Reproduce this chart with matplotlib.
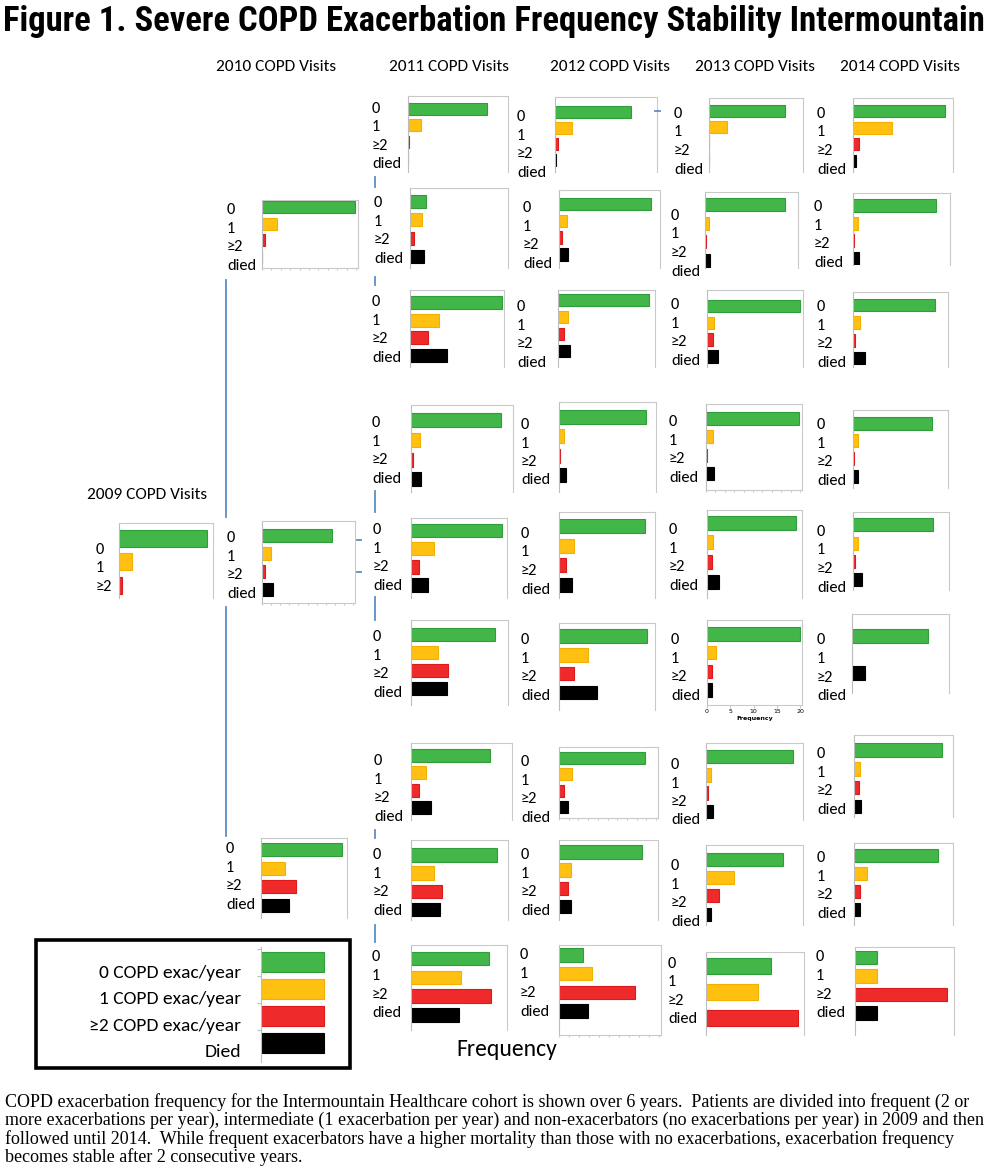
import matplotlib
matplotlib.use("Agg")
import matplotlib.pyplot as plt
from matplotlib import font_manager as fm
from matplotlib.lines import Line2D
from matplotlib.patches import Rectangle
import numpy as np

# ---------------- data (values on a 0-20 frequency scale) ----------------
categories = ["0", "1", "≥2", "died"]
years = ["2010", "2011", "2012", "2013", "2014"]

v2009 = [19.2, 2.8, 0.6]
v2010 = [[19.8, 3.2, 0.6, 0.0],
         [15.4, 2.0, 0.6, 2.4],
         [19.2, 5.8, 8.2, 6.6]]
v2011 = [[16.2, 2.6, 0.3, 0.08],
         [3.4, 2.4, 0.8, 3.0],
         [20.0, 6.2, 3.8, 8.0],
         [18.0, 1.8, 0.4, 2.0],
         [19.4, 4.8, 1.8, 3.6],
         [17.6, 5.6, 7.8, 7.6],
         [16.0, 3.0, 1.6, 4.0],
         [18.0, 4.8, 6.6, 6.2],
         [16.6, 10.6, 17.0, 10.2]]
v2012 = [[15.2, 3.4, 0.6, 0.2],
         [18.6, 1.6, 0.6, 1.8],
         [19.2, 2.0, 1.2, 2.6],
         [18.4, 1.0, 0.3, 1.4],
         [18.2, 3.2, 1.4, 2.8],
         [18.8, 6.2, 3.2, 8.0],
         [17.8, 2.6, 1.0, 1.8],
         [17.0, 2.4, 1.8, 2.4],
         [4.8, 6.6, 15.2, 5.8]]
v2013 = [[16.4, 4.0, 0.1, 0.0],
         [17.6, 0.8, 0.2, 1.2],
         [19.8, 1.4, 1.2, 2.4],
         [19.8, 1.4, 0.2, 1.6],
         [19.2, 1.2, 1.0, 2.6],
         [20.0, 2.0, 1.0, 1.0],
         [18.2, 1.0, 0.4, 1.4],
         [16.2, 5.8, 2.8, 1.0],
         [13.6, 10.8, 19.2]]
v2014 = [[18.8, 8.0, 1.2, 0.7],
         [17.4, 1.0, 0.2, 1.2],
         [17.6, 1.6, 0.4, 2.6],
         [17.0, 1.0, 0.2, 1.0],
         [17.0, 1.0, 0.4, 2.0],
         [16.0, 0.0, 2.8],
         [18.2, 1.2, 1.0, 1.4],
         [17.4, 2.6, 1.2, 1.2],
         [4.6, 4.6, 19.0, 4.6]]
freq_ticks = [0, 5, 10, 15, 20]
legend_labels = ["0 COPD exac/year", "1 COPD exac/year", "≥2 COPD exac/year", "Died"]
legend_values = [1, 1, 1, 1]

caption_lines = [
    "COPD exacerbation frequency for the Intermountain Healthcare cohort is shown over 6 years.  Patients are divided into frequent (2 or",
    "more exacerbations per year), intermediate (1 exacerbation per year) and non-exacerbators (no exacerbations per year) in 2009 and then",
    "followed until 2014.  While frequent exacerbators have a higher mortality than those with no exacerbations, exacerbation frequency",
    "becomes stable after 2 consecutive years.",
]

# ---------------- style ----------------
G, GE = "#43b649", "#2f9e3a"
O, OE = "#ffc012", "#f2b100"
R, RE = "#ee2a2a", "#dc1a1a"
K, KE = "#000000", "#000000"
FILL = [G, O, R, K]
EDGE = [GE, OE, RE, KE]
BLUE = "#5b8ec6"
SPINE = "#c9c9c9"

W, H = 1000, 1176
fig = plt.figure(figsize=(W / 100, H / 100), dpi=100)
fig.patch.set_facecolor("white")

avail = {f.name for f in fm.fontManager.ttflist}
def pick(*names):
    for n in names:
        if n in avail:
            return n
    return "DejaVu Sans"
SANS = [pick("Carlito", "Lato", "Open Sans"), "DejaVu Sans"]
TITLEF = [pick("Liberation Sans Narrow", "Roboto Condensed", "Noto Sans Condensed",
               "Open Sans Condensed", "Liberation Sans", "Arial"), "DejaVu Sans"]
SERIF = [pick("Liberation Serif", "DejaVu Serif"), "DejaVu Serif"]

def fx(x):
    return x / W
def fy(y):
    return 1 - y / H

# layout: frame x0,y0,x1,y1 ; first bar centre, slot spacing, bar height ; label x, first label y, label spacing
L2009 = (119, 523, 213, 598, 538.5, 23.5, 17, 97, 550, 18.5)
L2010 = [(262, 200, 358, 268, 207, 16.5, 12, 228, 210, 18.7),
         (262, 521, 355, 603, 535.5, 18, 13, 228, 538, 18.7),
         (261, 838, 347, 918, 849.5, 18.5, 13, 227, 849, 18.7)]
L2011 = [(408, 96, 508, 172, 109, 16.3, 12, 373, 109, 18.3),
         (410, 188, 508, 268, 201.5, 18.3, 13, 375, 203, 18.7),
         (410, 290, 504, 367, 302.5, 17.7, 13, 373, 302, 18.7),
         (411, 405, 513, 492, 420, 19.8, 14, 373, 423, 18.5),
         (411, 518, 507, 598, 530.5, 18.2, 13.5, 374, 530, 18.7),
         (411, 620, 508, 705, 634.5, 18, 13.5, 374, 637, 18.7),
         (411, 743, 512, 820, 755.5, 17.3, 13, 375, 761, 18.7),
         (411, 840, 508, 920, 855, 18.2, 13.5, 374, 855, 18.7),
         (411, 945, 507, 1030, 958.5, 18.8, 13.5, 373, 957, 18.8)]
L2012 = [(555, 97, 657, 172, 111.5, 16.2, 12, 518, 117, 18.7),
         (559, 190, 660, 268, 204, 16.8, 12.5, 524, 208, 18.7),
         (558, 290, 655, 367, 299.5, 17.3, 12, 518, 307, 18.5),
         (559, 402, 656, 492, 417, 19.3, 14, 522, 425, 18.5),
         (559, 512, 655, 598, 526.5, 19.5, 14, 522, 534, 18.5),
         (559, 623, 655, 710, 636, 18.8, 13.5, 522, 640, 18.7),
         (559, 747, 658, 818, 758, 16.3, 12, 522, 762, 18.7),
         (559, 840, 658, 920, 852, 18.2, 13.5, 522, 855, 18.7),
         (559, 945, 661, 1035, 955, 18.7, 13.5, 521, 955, 19)]
L2013 = [(709, 98, 803, 172, 111, 16, 12, 675, 114, 18.5),
         (705, 192, 798, 268, 204.5, 18.5, 13, 672, 216, 18.5),
         (707, 290, 803, 367, 306, 16.8, 12.5, 672, 305, 18.7),
         (706, 404, 802, 490, 418.5, 18.3, 13, 670, 422, 18.7),
         (707, 510, 802, 598, 522.5, 19.8, 14, 670, 530, 18.7),
         (707, 620, 802, 705, 634, 18.7, 13.5, 672, 640, 18.7),
         (706, 743, 803, 820, 756.5, 18.3, 13.5, 672, 765, 18.5),
         (706, 845, 803, 925, 859.5, 18.2, 13, 672, 866, 18.7),
         (706, 952, 804, 1035, 966, 26, 15.5, 669, 964, 18.4)]
L2014 = [(853, 98, 953, 172, 111, 16.5, 12, 818, 114, 18.5),
         (853, 193, 950, 265, 205.5, 17.7, 13, 815, 207, 18.7),
         (853, 292, 948, 367, 305, 17.7, 12.5, 818, 307, 18.7),
         (853, 410, 948, 488, 423, 17.8, 13, 818, 425, 18.7),
         (853, 512, 949, 590, 525, 18.3, 13, 818, 532, 18.5),
         (852, 614, 949, 693, 636, 18.5, 14, 818, 640, 18.8),
         (854, 735, 953, 817, 750, 18.8, 13.5, 818, 754, 18.7),
         (854, 843, 953, 925, 855.5, 18, 13, 818, 858, 18.7),
         (855, 947, 954, 1035, 957.5, 18.5, 13.5, 817, 957, 18.8)]

LABEL_FS = 11.8

def panel(vals, lay, labels=categories, colors=None, bottom=False, freq_axis=False):
    x0, y0, x1, y1, c0, sp, bh, lx, ly0, lsp = lay
    ax = fig.add_axes([fx(x0), fy(y1), (x1 - x0) / W, (y1 - y0) / H])
    ax.set_xlim(0, 20.4)
    ax.set_ylim((y1 - c0) / sp, (y0 - c0) / sp)
    fills = colors if colors else FILL[:len(vals)]
    edges = [EDGE[FILL.index(c)] for c in fills]
    ax.barh(np.arange(len(vals)), vals, height=bh / sp, color=fills,
            edgecolor=edges, linewidth=0.8)
    for s in ["top", "right", "left", "bottom"]:
        ax.spines[s].set_color(SPINE)
        ax.spines[s].set_linewidth(0.8)
    ax.spines["left"].set_color("#bdbdbd")
    ax.spines["bottom"].set_visible(bottom or freq_axis)
    ax.set_yticks([])
    if freq_axis:
        ax.set_xticks(freq_ticks)
        ax.tick_params(axis="x", labelsize=4.5, length=2, color=SPINE, pad=1)
        ax.set_xlabel("Frequency", fontsize=4.5, fontweight="bold", labelpad=1)
    elif bottom:
        ax.set_xticks(np.arange(0, 21, 2))
        ax.tick_params(axis="x", labelbottom=False, length=1.5, color=SPINE)
    else:
        ax.set_xticks([])
    for i, lab in enumerate(labels):
        fig.text(fx(lx - 1), fy(ly0 + i * lsp), lab, ha="left", va="center",
                 fontsize=LABEL_FS, family=SANS, color="black")
    return ax

# 2009
panel(v2009, L2009, labels=categories[:3])
# 2010
bottom2010 = [True, True, False]
for vals, lay, b in zip(v2010, L2010, bottom2010):
    panel(vals, lay, bottom=b)
for vals, lay in zip(v2011, L2011):
    panel(vals, lay)
for i, (vals, lay) in enumerate(zip(v2012, L2012)):
    panel(vals, lay, bottom=i in (6, 8))
for i, (vals, lay) in enumerate(zip(v2013, L2013)):
    panel(vals, lay, bottom=(i == 3), freq_axis=(i == 5))
for i, (vals, lay) in enumerate(zip(v2014, L2014)):
    if i == 5:
        panel(vals, lay, colors=[G, O, K])
    else:
        panel(vals, lay)

# ---------------- text ----------------
renderer = fig.canvas.get_renderer()

def fit(t, target):
    w = t.get_window_extent(renderer).width
    t.set_fontsize(t.get_fontsize() * target / w)

title = fig.text(fx(3), fy(21), "Figure 1. Severe COPD Exacerbation Frequency Stability Intermountain",
                 ha="left", va="center", fontsize=24, fontweight="bold", family=TITLEF)
fit(title, 982)

head_x = [276, 449, 610, 755, 900]
for yr, hx in zip(years, head_x):
    fig.text(fx(hx), fy(67), f"{yr} COPD Visits", ha="center", va="center",
             fontsize=12.4, family=SANS)
fig.text(fx(147), fy(495), "2009 COPD Visits", ha="center", va="center",
         fontsize=12.4, family=SANS)

fig.text(fx(507), fy(1049), "Frequency", ha="center", va="center",
         fontsize=17, family=SANS)

cap = []
for i, line in enumerate(caption_lines):
    cap.append(fig.text(fx(5), fy(1102 + i * 18.3), line, ha="left", va="center",
                        fontsize=10.5, family=SERIF))
w = cap[1].get_window_extent(renderer).width
for c in cap:
    c.set_fontsize(c.get_fontsize() * 977 / w)

# ---------------- legend ----------------
fig.patches.append(Rectangle((fx(36), fy(1068)), (350 - 36) / W, (1068 - 940) / H,
                             transform=fig.transFigure, fill=False,
                             edgecolor="black", linewidth=2.6))
lax = fig.add_axes([fx(261), fy(1062), (340 - 261) / W, (1062 - 947) / H])
lax.set_xlim(0, 1.25)
lc0, lsp = 962, 27
lax.set_ylim((1062 - lc0) / lsp, (947 - lc0) / lsp)
lax.barh(np.arange(4), legend_values, height=19.5 / lsp, color=FILL,
         edgecolor=EDGE, linewidth=0.8)
for s in ["top", "right", "bottom"]:
    lax.spines[s].set_visible(False)
lax.spines["left"].set_color("#bdbdbd")
lax.set_xticks([])
lax.set_yticks(np.arange(4) - 0.5)
lax.tick_params(axis="y", labelleft=False, length=3, color="#bdbdbd")
for i, lab in enumerate(legend_labels):
    fig.text(fx(241), fy(973 + i * 26.3), lab, ha="right", va="center",
             fontsize=14, family=SANS)

# ---------------- connector lines ----------------
def seg(x0, y0, x1, y1, color=BLUE, lw=1.3):
    fig.add_artist(Line2D([fx(x0), fx(x1)], [fy(y0), fy(y1)], transform=fig.transFigure,
                          color=color, linewidth=lw))

seg(226, 280, 226, 517)
seg(226, 607, 226, 836)
for (ya, yb) in [(177, 187), (277, 285), (491, 512), (597, 620), (830, 838), (925, 942)]:
    seg(375, ya, 375, yb)
seg(357, 540, 361, 540)
seg(357, 572, 361, 572)
seg(655, 111, 660, 111)

fig.savefig("out.png", dpi=100, facecolor="white")
